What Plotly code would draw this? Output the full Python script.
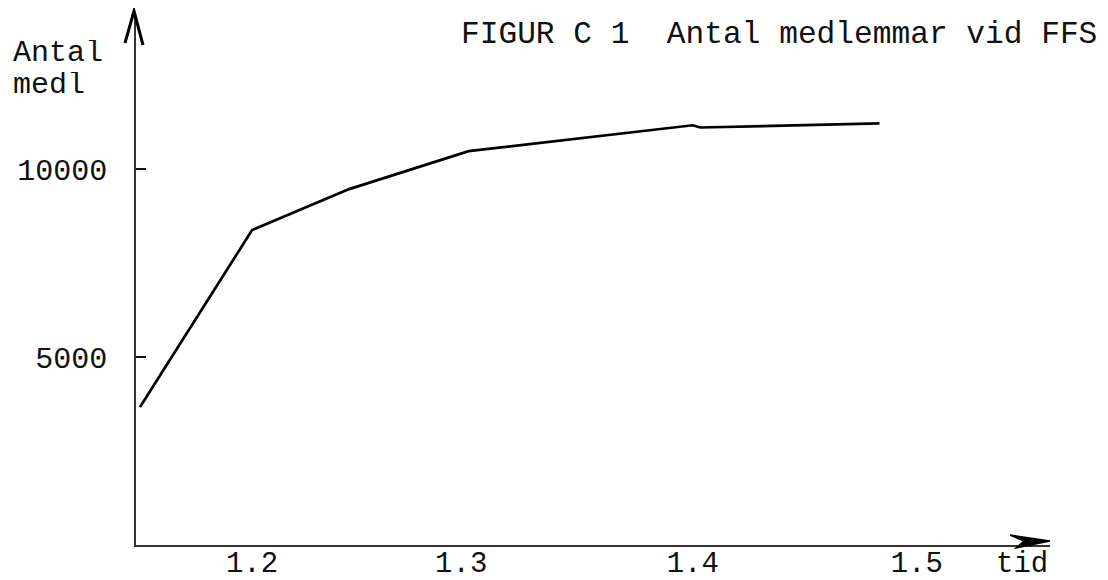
from datetime import timedelta

import pandas as pd
import plotly.graph_objects as go

# day.month as written on the chart
dates = ["17.1", "1.2", "14.2", "2.3", "1.4", "2.4", "26.4"]
members = [3670, 8380, 9470, 10480, 11170, 11110, 11220]

tick_dates = ["1.2", "1.3", "1.4", "1.5"]
y_ticks = [5000, 10000]
y_tick_text = ["5000", "10000"]

YEAR = 1971  # chart only shows day.month, any non-leap year works
FONT = "Liberation Mono, Courier New, monospace"

# the page body has an 8px margin, so the figure is drawn 8px in and 8px down
OFF = 8
W, H = 1108 - 2 * OFF, 580 - OFF
L, R, T, B = 136 - OFF, 58 - OFF, 13 - OFF, 35


def to_date(s):
    return pd.to_datetime(f"{s}.{YEAR}", format="%d.%m.%Y")


def px_x(p):
    return (p - OFF - L) / (W - L - R)


def px_y(p):
    return (H - B - (p - OFF)) / (H - T - B)


x = [to_date(d) for d in dates]

fig = go.Figure()
fig.add_trace(go.Scatter(
    x=x, y=members, mode="lines",
    line=dict(color="black", width=2.7),
    showlegend=False, hoverinfo="skip",
))

x_range = [to_date("16.1") + timedelta(hours=11), to_date("18.5") + timedelta(hours=20)]

fig.update_layout(
    width=W, height=H,
    margin=dict(l=L, r=R, t=T, b=B),
    paper_bgcolor="white", plot_bgcolor="white",
    font=dict(family=FONT, color="#111", size=30),
    xaxis=dict(
        type="date", range=x_range, automargin=False,
        tickvals=[to_date(d) for d in tick_dates], ticktext=tick_dates,
        showline=True, linecolor="#333", linewidth=1.6,
        showgrid=False, zeroline=False, ticks="",
        tickfont=dict(family=FONT, size=29, color="#111"),
        ticklabelstandoff=-10,
    ),
    yaxis=dict(
        range=[0, 14157], automargin=False,
        tickvals=y_ticks, ticktext=y_tick_text,
        showline=True, linecolor="#333", linewidth=1.6,
        showgrid=False, zeroline=False,
        ticks="inside", ticklen=10, tickwidth=2.2, tickcolor="#111",
        tickfont=dict(family=FONT, size=30, color="#111"),
        ticklabelstandoff=21,
    ),
)

text_style = dict(xref="paper", yref="paper", showarrow=False,
                  font=dict(family=FONT, size=30, color="#111"))
fig.add_annotation(text="FIGUR C 1\u00a0\u00a0Antal medlemmar vid FFS",
                   x=px_x(1099), y=px_y(34), xanchor="right", yanchor="middle",
                   **{**text_style, "font": dict(family=FONT, size=31.2, color="#111")})
fig.add_annotation(text="Antal", x=px_x(11), y=px_y(53), xanchor="left", yanchor="middle",
                   height=26, **text_style)
fig.add_annotation(text="medl", x=px_x(11), y=px_y(85), xanchor="left", yanchor="middle",
                   height=26, **text_style)
fig.add_annotation(text="tid", x=px_x(1022), y=px_y(564), xanchor="center", yanchor="middle",
                   **{**text_style, "font": dict(family=FONT, size=29, color="#111")})

# arrow heads at the ends of the axes
fig.add_shape(type="path", xref="paper", yref="paper",
              xsizemode="pixel", ysizemode="pixel", xanchor=1, yanchor=0,
              path="M-40,10 L0,4 L-34,-3 L-26,4 Z",
              fillcolor="black", line=dict(color="black", width=1.5))
fig.add_shape(type="path", xref="paper", yref="paper",
              xsizemode="pixel", ysizemode="pixel", xanchor=0, yanchor=1,
              path="M-11,-30 L-2,2 L7,-32",
              line=dict(color="black", width=3))

fig.write_html("out.html")
